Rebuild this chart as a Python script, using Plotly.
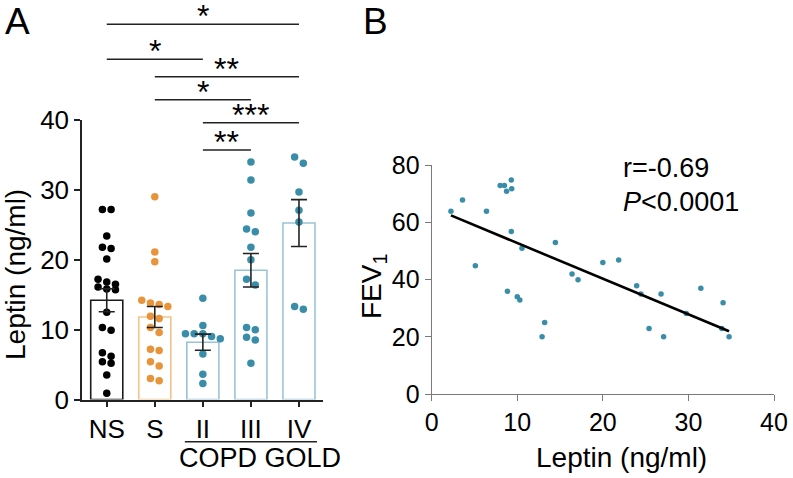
import numpy as np
import plotly.graph_objects as go

# ---- panel A data (ng/ml) ----
groups = ['NS', 'S', 'II', 'III', 'IV']
ns_vals = [27.2, 27.2, 23.4, 21.8, 21.6, 20.1, 17.2, 16.8, 16.5, 16.1, 15.8, 15.7,
           12.5, 10.3, 9.9, 6.7, 6.2, 5.4, 5.2, 3.5, 0.9]
s_vals = [29.0, 21.1, 19.7, 14.2, 13.8, 13.6, 13.3, 11.9, 11.6, 10.3, 9.6,
          7.2, 7.0, 5.4, 4.8, 3.0, 2.7]
ii_vals = [14.5, 10.6, 9.4, 9.4, 9.4, 9.0, 8.7, 6.5, 3.6, 2.3]
iii_vals = [34.0, 31.4, 26.7, 24.4, 24.0, 21.8, 20.0, 17.2, 16.4, 10.3, 10.0,
            8.9, 8.5, 5.2]
iv_vals = [34.7, 33.8, 29.7, 27.1, 25.4, 13.3, 12.9]
bar_means = [14.2, 11.8, 8.2, 18.5, 25.25]
bar_sems = [1.65, 1.5, 1.15, 2.4, 3.35]

sig_pairs = [(0, 4, '*'), (0, 2, '*'), (1, 4, '**'), (1, 3, '*'), (2, 4, '***'), (2, 3, '**')]
sig_levels = [53.7, 48.7, 46.2, 42.9, 39.6, 35.7]

# ---- panel B data ----
leptin = [2.25, 3.6, 5.1, 6.4, 8.0, 8.5, 9.3, 8.75, 9.35, 9.3, 8.85, 10.0, 10.3, 10.55,
          12.9, 13.2, 14.45, 16.4, 17.1, 20.0, 21.85, 23.95, 24.45, 25.4, 26.8, 27.1,
          29.75, 31.45, 33.9, 34.05, 34.75]
fev1 = [63.8, 67.8, 44.8, 63.8, 72.8, 72.8, 74.8, 70.8, 71.7, 56.8, 35.9, 34.0, 32.8, 50.9,
        20.0, 25.0, 52.9, 41.9, 39.9, 45.9, 46.8, 37.8, 34.9, 22.9, 34.9, 20.0,
        28.1, 36.9, 22.9, 31.9, 20.0]

black = '#000000'
orange = '#E8943A'
teal = '#3A8DA8'
dot_cols = [black, orange, teal, teal, teal]
bar_edges = ['#1a1a1a', '#F2C48C', '#9CC3D5', '#9CC3D5', '#9CC3D5']
FONT = 'Liberation Sans, Arial, sans-serif'

W, H = 793, 478


def fx(px):
    return px / W


def fy(py):
    return 1 - py / H


# panel boxes in page pixels
ax_l, ax_r, ay_b, ay_t = 82, 323, 399.5, 120
bx_l, bx_r, by_b, by_t = 431.7, 774, 394, 165
xa_dom = [fx(ax_l), fx(ax_r)]
ya_dom = [fy(ay_b), fy(ay_t)]
xb_dom = [fx(bx_l), fx(bx_r)]
yb_dom = [fy(by_b), fy(by_t)]
xa_range = [-0.515, 4.5]
ypx = (ay_b - ay_t) / 40.0
xpx = (ax_r - ax_l) / (xa_range[1] - xa_range[0])


def swarm(vals, center, row_h=6.5, step=8.7):
    rows = []
    for v in sorted(vals, reverse=True):
        if rows and (rows[-1][0] - v) * ypx < row_h:
            rows[-1].append(v)
        else:
            rows.append([v])
    xs, ys = [], []
    for row in rows:
        n = len(row)
        for i, v in enumerate(row):
            xs.append(center + (i - (n - 1) / 2) * step / xpx)
            ys.append(v)
    return xs, ys


fig = go.Figure()

fig.add_trace(go.Bar(x=list(range(5)), y=bar_means, width=0.667,
                     marker=dict(color='white', line=dict(color=bar_edges, width=1.6)),
                     xaxis='x', yaxis='y', showlegend=False))

all_vals = [ns_vals, s_vals, ii_vals, iii_vals, iv_vals]
for i, vals in enumerate(all_vals):
    xs, ys = swarm(vals, i)
    fig.add_trace(go.Scatter(x=xs, y=ys, mode='markers',
                             marker=dict(color=dot_cols[i], size=7.5),
                             xaxis='x', yaxis='y', showlegend=False, cliponaxis=False))

fig.add_trace(go.Scatter(x=list(range(5)), y=bar_means, mode='markers',
                         marker=dict(size=1, color='rgba(0,0,0,0)'),
                         error_y=dict(type='data', array=bar_sems, color='#222222',
                                      thickness=1.6, width=8),
                         xaxis='x', yaxis='y', showlegend=False))

# overlay subplot for significance brackets (same units as leptin axis)
per_unit = (ya_dom[1] - ya_dom[0]) / 40.0
y3_range = [-ya_dom[0] / per_unit, (1 - ya_dom[0]) / per_unit]
annotations = []
for (a, b, txt), lev in zip(sig_pairs, sig_levels):
    fig.add_trace(go.Scatter(x=[a, b], y=[lev, lev], mode='lines',
                             line=dict(color='#222222', width=1.4),
                             xaxis='x3', yaxis='y3', showlegend=False))
    annotations.append(dict(x=(a + b) / 2, y=lev, xref='x3', yref='y3', text=txt,
                            showarrow=False, yanchor='bottom', yshift=-12,
                            font=dict(family=FONT, size=32, color='black')))

copd_y = -(441.7 - ay_b) / ypx
fig.add_trace(go.Scatter(x=[1.625, 4.375], y=[copd_y, copd_y], mode='lines',
                         line=dict(color='#222222', width=1.4),
                         xaxis='x3', yaxis='y3', showlegend=False))
annotations.append(dict(x=3.19, y=-(457.5 - ay_b) / ypx, xref='x3', yref='y3',
                        text='COPD GOLD', showarrow=False, yanchor='middle',
                        font=dict(family=FONT, size=27, color='black')))

# panel B
slope, icpt = np.polyfit(leptin, fev1, 1)
fit_x = np.array([min(leptin), max(leptin)])
fig.add_trace(go.Scatter(x=leptin, y=fev1, mode='markers',
                         marker=dict(color=teal, size=5.5),
                         xaxis='x2', yaxis='y2', showlegend=False))
fig.add_trace(go.Scatter(x=fit_x, y=slope * fit_x + icpt, mode='lines',
                         line=dict(color='black', width=2.6),
                         xaxis='x2', yaxis='y2', showlegend=False))

annotations += [
    dict(x=fx(3), y=fy(21.5), xref='paper', yref='paper', text='A', showarrow=False,
         xanchor='left', yanchor='middle', font=dict(family=FONT, size=37, color='black')),
    dict(x=fx(361), y=fy(21.5), xref='paper', yref='paper', text='B', showarrow=False,
         xanchor='left', yanchor='middle', font=dict(family=FONT, size=37, color='black')),
    dict(x=fx(15), y=fy(275), xref='paper', yref='paper', text='Leptin (ng/ml)',
         textangle=-90, showarrow=False, xanchor='center', yanchor='middle',
         font=dict(family=FONT, size=28, color='black')),
    dict(x=fx(621), y=fy(457), xref='paper', yref='paper', text='Leptin (ng/ml)',
         showarrow=False, xanchor='center', yanchor='middle',
         font=dict(family=FONT, size=28, color='black')),
    dict(x=fx(373), y=fy(287), xref='paper', yref='paper', text='FEV<sub>1</sub>',
         textangle=-90, showarrow=False, xanchor='center', yanchor='middle',
         font=dict(family=FONT, size=28, color='black')),
    dict(x=fx(621), y=fy(168), xref='paper', yref='paper', text='r=-0.69',
         showarrow=False, xanchor='left', yanchor='middle',
         font=dict(family=FONT, size=27, color='black')),
    dict(x=fx(621), y=fy(202), xref='paper', yref='paper', text='<i>P</i><0.0001',
         showarrow=False, xanchor='left', yanchor='middle',
         font=dict(family=FONT, size=27, color='black')),
]

axis_a = dict(showgrid=False, zeroline=False, showline=True, linecolor='#222222',
              linewidth=1.5, ticks='outside', ticklen=6, tickwidth=1.5, tickcolor='#222222',
              tickfont=dict(family=FONT, size=26, color='black'), automargin=False)
axis_b = dict(showgrid=False, zeroline=False, showline=True, linecolor='#7a7a7a',
              linewidth=1.3, ticks='outside', ticklen=6, tickwidth=1.3, tickcolor='#7a7a7a',
              tickfont=dict(family=FONT, size=25, color='black'), automargin=False)

fig.update_layout(
    width=W, height=H, margin=dict(l=0, r=0, t=0, b=0, autoexpand=False),
    paper_bgcolor='white', plot_bgcolor='rgba(0,0,0,0)',
    bargap=0.333,
    xaxis=dict(axis_a, domain=xa_dom, range=xa_range, tickvals=list(range(5)),
               ticktext=groups, anchor='y'),
    yaxis=dict(axis_a, domain=ya_dom, range=[0, 40], tickvals=[0, 10, 20, 30, 40],
               anchor='x'),
    xaxis3=dict(domain=xa_dom, range=xa_range, visible=False, anchor='y3'),
    yaxis3=dict(domain=[0, 1], range=y3_range, visible=False, anchor='x3'),
    xaxis2=dict(axis_b, domain=xb_dom, range=[0, 40], tickvals=[0, 10, 20, 30, 40],
                anchor='y2'),
    yaxis2=dict(axis_b, domain=yb_dom, range=[0, 80], tickvals=[0, 20, 40, 60, 80],
                anchor='x2'),
    annotations=annotations,
)

# the page body has a default 8px margin; drop it so the figure fills the window
fig.write_html('out.html', config={'displayModeBar': False},
               post_script="document.body.style.margin='0';")
